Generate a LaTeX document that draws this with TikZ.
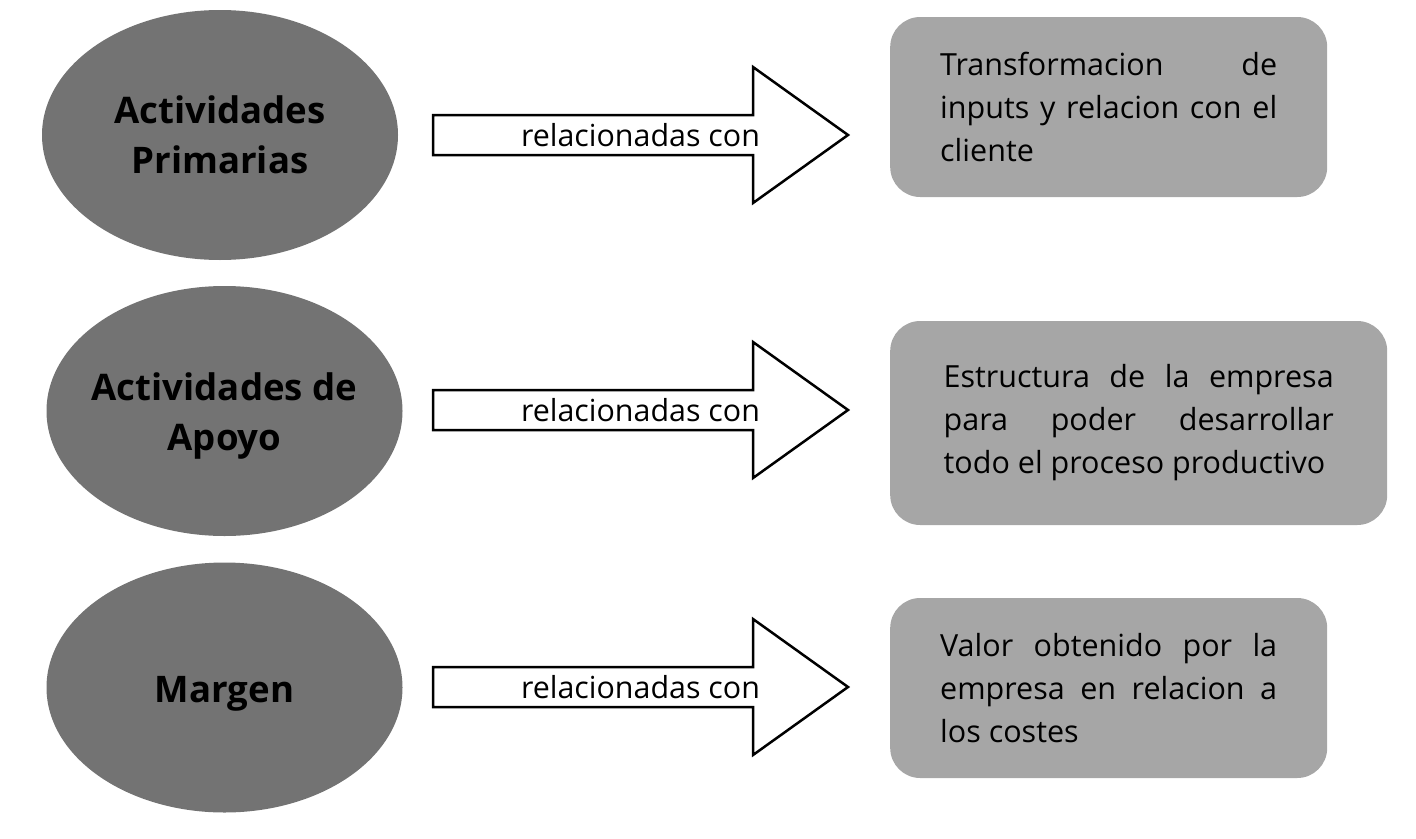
\documentclass[tikz,border=0pt]{standalone}
\usepackage{fontspec}
\setmainfont{Open Sans}
\usetikzlibrary{shapes.geometric}
\definecolor{ovalgray}{HTML}{737373}
\definecolor{boxgray}{HTML}{A6A6A6}
\tikzset{
  actividad/.style={ellipse, fill=ovalgray, minimum width=356pt, minimum height=250pt, inner sep=0pt},
  actividadtxt/.style={align=center, font=\bfseries\fontsize{36.6}{50}\selectfont},
  flecha/.style={draw=black, line width=2.5pt, fill=white, line join=miter},
  relacion/.style={font=\fontsize{30.4}{36}\selectfont},
  cuadro/.style={rectangle, rounded corners=30pt, fill=boxgray, anchor=west, inner sep=0pt, align=justify, minimum height=180pt, font=\fontsize{30.5}{43}\selectfont}
}
\begin{document}
\begin{tikzpicture}[x=1pt, y=-1pt]
            \useasboundingbox (0,0) rectangle (1416,838);
            \node[actividad] (primarias) at (220,135) {};
            \node[actividad] (apoyo) at (224.5,411) {};
            \node[actividad] (margen) at (224.5,687.5) {};
            \node[actividadtxt] (primariastxt) at (220,135) {Actividades\\Primarias};
            \node[actividadtxt] (apoyotxt) at (224.5,416) {Actividades de\\Apoyo};
            \node[actividadtxt] (margentxt) at (224.5,694) {Margen};
            \foreach \n/\y in {1/135, 2/410, 3/687} {
                    \draw[flecha] (433,\y-20) -- (753,\y-20) -- (753,\y-68) -- (848,\y)
                        -- (753,\y+68) -- (753,\y+20) -- (433,\y+20) -- cycle;
                    \node[relacion] (rel\n) at (640.5,\y) {relacionadas con};
                }
            \node[cuadro, minimum width=437pt, text width=337pt] (transformacion) at (890,107)
                {\hyphenpenalty=10000 Transformacion de\linebreak inputs y relacion con el\linebreak cliente};
            \node[cuadro, minimum width=497pt, minimum height=204pt, text width=390pt] (estructura) at (890,423)
                {\hyphenpenalty=10000 Estructura de la empresa\linebreak para poder desarrollar\linebreak todo el proceso productivo};
            \node[cuadro, minimum width=437pt, text width=337pt] (valor) at (890,688)
                {\hyphenpenalty=10000 Valor obtenido por la\linebreak empresa en relacion a\linebreak los costes};
        \end{tikzpicture}
\end{document}
